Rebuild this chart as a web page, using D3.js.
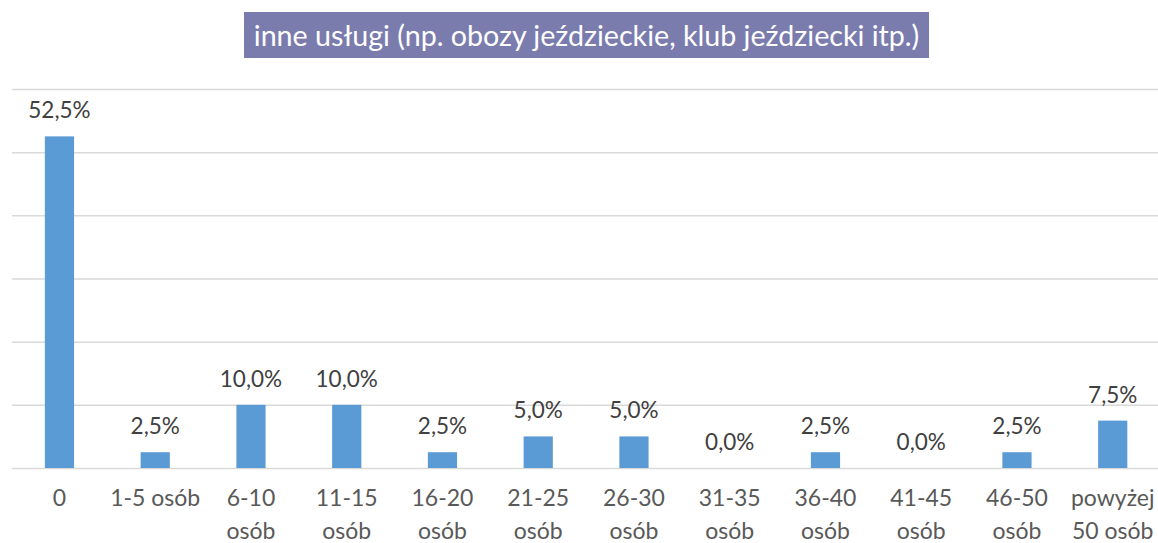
<!DOCTYPE html>
<html>
<head>
<meta charset="utf-8">
<script src="https://cdn.jsdelivr.net/npm/d3@7"></script>
<style>
  html, body { margin: 0; padding: 0; background: #fff; }
  svg { display: block; }
  text { font-family: Lato, "Open Sans", sans-serif; }
</style>
</head>
<body>
<svg id="chart" width="1158" height="543"></svg>
<script>
const title = "inne usługi (np. obozy jeździeckie, klub jeździecki itp.)";
const categories = ["0", "1-5 osób", "6-10 osób", "11-15 osób", "16-20 osób", "21-25 osób",
  "26-30 osób", "31-35 osób", "36-40 osób", "41-45 osób", "46-50 osób", "powyżej 50 osób"];
const categoryLines = [["0"], ["1-5 osób"], ["6-10", "osób"], ["11-15", "osób"], ["16-20", "osób"],
  ["21-25", "osób"], ["26-30", "osób"], ["31-35", "osób"], ["36-40", "osób"], ["41-45", "osób"],
  ["46-50", "osób"], ["powyżej", "50 osób"]];
const values = [52.5, 2.5, 10.0, 10.0, 2.5, 5.0, 5.0, 0.0, 2.5, 0.0, 2.5, 7.5];
const yTicks = [0, 10, 20, 30, 40, 50, 60];

const svg = d3.select("#chart");
const W = 1158, H = 543;

const x = d3.scaleBand().domain(categories).range([11.6, 1160.6]).paddingInner(0.695).paddingOuter(0.3475);
const y = d3.scaleLinear().domain([0, 60]).range([468, 89]);

// gridlines
const grid = svg.append("g").attr("transform", "translate(12,0)")
  .call(d3.axisLeft(y).tickValues(yTicks).tickSize(-(W - 12)).tickFormat(""));
grid.select(".domain").remove();
grid.selectAll(".tick line").attr("stroke", "#d9d9d9").attr("stroke-width", 1.5);

// bars
svg.append("g").selectAll("rect").data(values).join("rect")
  .attr("x", (d, i) => x(categories[i]))
  .attr("width", x.bandwidth())
  .attr("y", d => y(d))
  .attr("height", d => y(0) - y(d))
  .attr("fill", "#5b9bd5");

// value labels
const fmt = d => d.toFixed(1).replace(".", ",") + "%";
svg.append("g").selectAll("text").data(values).join("text")
  .attr("x", (d, i) => x(categories[i]) + x.bandwidth() / 2)
  .attr("y", d => y(d) - 18)
  .attr("text-anchor", "middle")
  .attr("font-size", 22.5)
  .attr("fill", "#404040")
  .text(fmt);

// category labels
const xAxis = svg.append("g").attr("transform", `translate(0,${y(0)})`)
  .call(d3.axisBottom(x).tickSize(0).tickFormat(""));
xAxis.select(".domain").remove();
xAxis.selectAll(".tick").each(function(d, i) {
  const t = d3.select(this).append("text")
    .attr("text-anchor", "middle")
    .attr("font-size", 23)
    .attr("fill", "#595959");
  categoryLines[i].forEach((line, j) => {
    t.append("tspan").attr("x", 0).attr("y", 38 + j * 33).text(line);
  });
});

// title
const tg = svg.append("g");
tg.append("rect").attr("x", 244).attr("y", 12).attr("width", 685).attr("height", 46)
  .attr("fill", "#7b7cae");
const tt = tg.append("text").attr("x", 586.5).attr("y", 46).attr("text-anchor", "middle")
  .attr("fill", "#ffffff").attr("font-size", 26).text(title);
const target = 666;
const w = tt.node().getComputedTextLength();
tt.attr("font-size", 26 * target / w);
</script>
</body>
</html>
